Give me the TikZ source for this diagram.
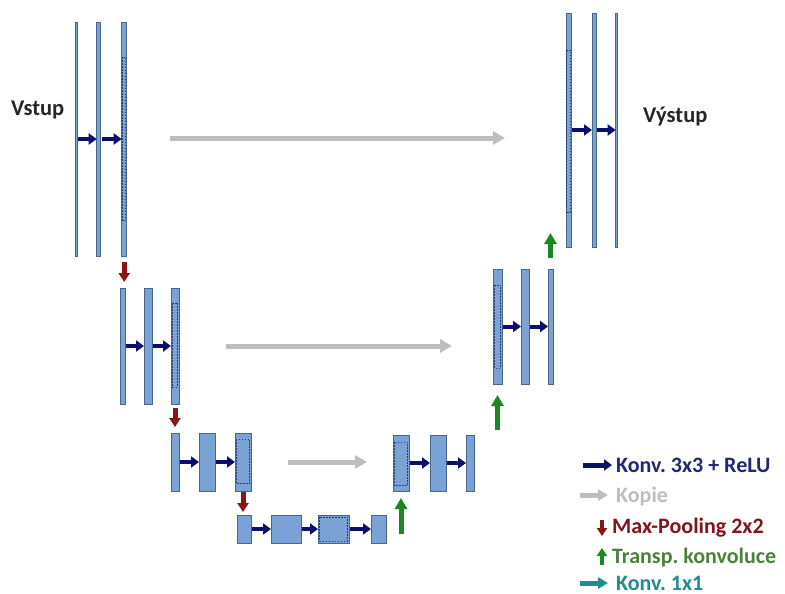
\documentclass[tikz,border=0pt]{standalone}
\usepackage{fontspec}
\setmainfont{Carlito}
\usetikzlibrary{arrows.meta,calc}

\definecolor{barfill}{RGB}{122,162,212}
\definecolor{barline}{RGB}{72,102,142}
\definecolor{dashline}{RGB}{35,62,118}
\definecolor{convnavy}{RGB}{12,14,110}
\definecolor{copygray}{RGB}{190,190,190}
\definecolor{poolred}{RGB}{140,20,22}
\definecolor{upgreen}{RGB}{28,135,36}
\definecolor{tealk}{RGB}{35,140,140}
\definecolor{legnavy}{RGB}{35,40,115}
\definecolor{leggreen}{RGB}{75,130,60}
\definecolor{legred}{RGB}{130,20,30}

\frenchspacing
\begin{document}
\begin{tikzpicture}[x=1pt,y=-1pt,
  bar/.style={rectangle,draw=barline,fill=barfill,line width=0.6pt,inner sep=0pt,outer sep=0pt},
  innerbox/.style={draw=dashline,line width=0.9pt,dash pattern=on 1.8pt off 1.2pt},
  conv/.style={draw=convnavy,line width=4pt,shorten <=1pt,-{Triangle[length=8pt,width=11pt]}},
  copyarrow/.style={draw=copygray,line width=5pt,-{Triangle[length=12pt,width=13pt]}},
  pool/.style={draw=poolred,line width=5pt,-{Triangle[length=9pt,width=11pt]}},
  uparrow/.style={draw=upgreen,line width=5pt,-{Triangle[length=11pt,width=12pt]}},
  onebyone/.style={draw=tealk,line width=5pt,-{Triangle[length=10pt,width=11pt]}},
  lab/.style={font=\fontsize{22.5}{26}\selectfont\bfseries,inner sep=0pt,anchor=base west,text=black!85},
  legtext/.style={font=\fontsize{22}{26}\selectfont\bfseries,inner sep=0pt,anchor=base west}
]
\useasboundingbox (0,0) rectangle (785,594);
\fill[white] (0,0) rectangle (785,594);

% ---- contracting path ----
\node[bar,minimum width=1.6pt,minimum height=234pt] (L11) at (76.5,139) {};
\node[bar,minimum width=4pt,minimum height=234pt] (L12) at (98.7,139) {};
\node[bar,minimum width=5pt,minimum height=234pt] (L13) at (124.2,139) {};

\node[bar,minimum width=5pt,minimum height=116pt] (L21) at (122.5,346) {};
\node[bar,minimum width=8pt,minimum height=116pt] (L22) at (148,346) {};
\node[bar,minimum width=8pt,minimum height=116pt] (L23) at (175,346) {};

\node[bar,minimum width=8pt,minimum height=58pt] (L31) at (175,462) {};
\node[bar,minimum width=16pt,minimum height=58pt] (L32) at (207,462) {};
\node[bar,minimum width=16pt,minimum height=58pt] (L33) at (243,462) {};

% ---- bottom ----
\node[bar,minimum width=14pt,minimum height=28pt] (L41) at (244,529) {};
\node[bar,minimum width=30pt,minimum height=28pt] (L42) at (286,529) {};
\node[bar,minimum width=31pt,minimum height=28pt] (L43) at (333.5,529) {};
\node[bar,minimum width=15pt,minimum height=28pt] (L44) at (378.5,529) {};

% ---- expanding path ----
\node[bar,minimum width=16pt,minimum height=56pt] (R31) at (401,463) {};
\node[bar,minimum width=16pt,minimum height=56pt] (R32) at (438,463) {};
\node[bar,minimum width=8pt,minimum height=56pt] (R33) at (470,463) {};

\node[bar,minimum width=9pt,minimum height=115pt] (R21) at (497.5,326.5) {};
\node[bar,minimum width=8pt,minimum height=115pt] (R22) at (525,326.5) {};
\node[bar,minimum width=5pt,minimum height=115pt] (R23) at (550.5,326.5) {};

\node[bar,minimum width=5pt,minimum height=234pt] (R11) at (568.5,130) {};
\node[bar,minimum width=4pt,minimum height=234pt] (R12) at (594,130) {};
\node[bar,minimum width=1.6pt,minimum height=234pt] (R13) at (616.5,130) {};

% ---- copied (cropped) parts ----
\draw[innerbox] ([xshift=0.8pt,yshift=-35pt]L13.north west) rectangle ([xshift=-0.8pt,yshift=36pt]L13.south east);
\draw[innerbox] ([xshift=1.5pt,yshift=-15pt]L23.north west) rectangle ([xshift=-1.5pt,yshift=17pt]L23.south east);
\draw[innerbox] ([xshift=1.2pt,yshift=-6pt]L33.north west) rectangle ([xshift=-1.2pt,yshift=8pt]L33.south east);
\draw[innerbox] ([xshift=1.5pt,yshift=-2pt]L43.north west) rectangle ([xshift=-1.5pt,yshift=2pt]L43.south east);
\draw[innerbox] ([xshift=1.2pt,yshift=-7pt]R31.north west) rectangle ([xshift=-1.2pt,yshift=6pt]R31.south east);
\draw[innerbox] ([xshift=1.5pt,yshift=-16pt]R21.north west) rectangle ([xshift=-1.5pt,yshift=16pt]R21.south east);
\draw[innerbox] ([xshift=0.8pt,yshift=-37pt]R11.north west) rectangle ([xshift=-0.8pt,yshift=35pt]R11.south east);

% ---- 3x3 convolutions ----
\draw[conv] (L11.east) -- (L12.west);
\draw[conv] (L12.east) -- (L13.west);
\draw[conv] (L21.east) -- (L22.west);
\draw[conv] (L22.east) -- (L23.west);
\draw[conv] (L31.east) -- (L32.west);
\draw[conv] (L32.east) -- (L33.west);
\draw[conv] (L41.east) -- (L42.west);
\draw[conv] (L42.east) -- (L43.west);
\draw[conv] (L43.east) -- (L44.west);
\draw[conv] (R31.east) -- (R32.west);
\draw[conv] (R32.east) -- (R33.west);
\draw[conv] (R21.east) -- (R22.west);
\draw[conv] (R22.east) -- (R23.west);
\draw[conv] (R11.east) -- (R12.west);
\draw[conv] (R12.east) -- (R13.west);

% ---- skip connections ----
\draw[copyarrow,shorten <=43pt,shorten >=61pt] ([yshift=1pt]L13.east) -- ([yshift=1pt]L13.east -| R11.west);
\draw[copyarrow,shorten <=47pt,shorten >=41pt] (L23.east) -- (L23.east -| R21.west);
\draw[copyarrow,shorten <=37pt,shorten >=26pt] (L33.east) -- (L33.east -| R31.west);

% ---- max pooling ----
\draw[pool,shorten <=6pt,shorten >=6pt] (L13.south) -- (L13.south |- L21.north);
\draw[pool,shorten <=4pt,shorten >=6pt] (L23.south) -- (L23.south |- L31.north);
\draw[pool,shorten <=1pt,shorten >=3pt] (L33.south) -- (L33.south |- L41.north);

% ---- transposed convolutions ----
\draw[uparrow,shorten <=9pt,shorten >=7pt] (R31.south |- L44.south) -- (R31.south);
\draw[uparrow,shorten <=5pt,shorten >=11pt] (R21.south |- R31.north) -- (R21.south);
\draw[uparrow] ([yshift=11pt]R23.north) -- ([yshift=36pt]R23.north);

% ---- labels ----
\node[lab] (inp) at (11,116) {Vstup};
\node[lab] (outp) at (643,122) {Výstup};

% ---- legend ----
\node[legtext,text=legnavy] (lg1) at (616,472) {Konv. 3x3 + ReLU};
\node[legtext,text=copygray] (lg2) at (616,502) {Kopie};
\node[legtext,text=legred] (lg3) at (612,533) {Max-Pooling 2x2};
\node[legtext,text=leggreen] (lg4) at (612,563) {Transp. konvoluce};
\node[legtext,text=tealk] (lg5) at (616,590) {Konv. 1x1};

\coordinate (k1) at (583,465);
\coordinate (k2) at (580,495);
\coordinate (k3) at (602,520);
\coordinate (k4) at (602,565);
\coordinate (k5) at (580,583);
\draw[conv,shorten <=0pt,line width=5pt] (k1) -- ++(29,0);
\draw[copyarrow,-{Triangle[length=10pt,width=11pt]}] (k2) -- ++(28,0);
\draw[pool,line width=4pt,-{Triangle[length=8pt,width=10pt]}] (k3) -- ++(0,16);
\draw[uparrow,line width=4pt,-{Triangle[length=8pt,width=10pt]}] (k4) -- ++(0,-17);
\draw[onebyone] (k5) -- ++(28,0);
\end{tikzpicture}
\end{document}
